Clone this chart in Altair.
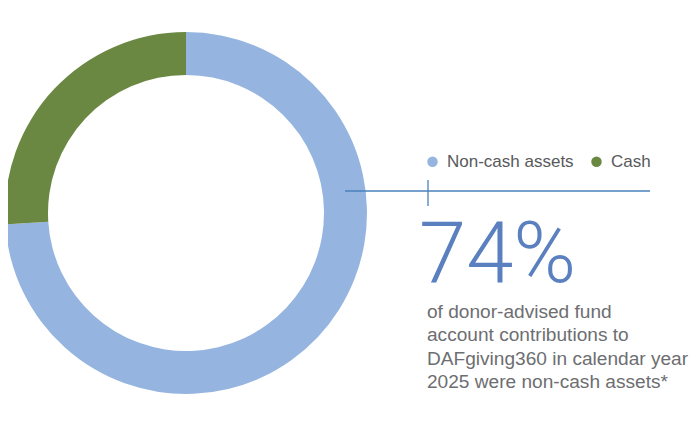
import altair as alt
import pandas as pd

categories = ["Non-cash assets", "Cash"]
shares = [74, 26]
colors = ["#95b5e0", "#6b8843"]
headline = "74%"
caption_lines = [
    "of donor-advised fund",
    "account contributions to",
    "DAFgiving360 in calendar year",
    "2025 were non-cash assets*",
]

donut_df = pd.DataFrame({"category": categories, "share": shares, "order": [0, 1]})
head_df = pd.DataFrame({"label": [headline]})
cap_df = pd.DataFrame({"caption": ["\n".join(caption_lines)]})

font = "Liberation Sans"

donut = alt.Chart(donut_df).mark_arc(outerRadius=181, innerRadius=138).encode(
    theta=alt.Theta("share:Q", stack=True),
    order=alt.Order("order:Q"),
    color=alt.Color(
        "category:N",
        scale=alt.Scale(domain=categories, range=colors),
        legend=alt.Legend(
            title=None,
            orient="none",
            direction="horizontal",
            legendX=416,
            legendY=145,
            symbolType="circle",
            symbolSize=110,
            symbolStrokeWidth=0,
            labelFont=font,
            labelFontSize=17,
            labelColor="#58595b",
            labelOffset=6,
            columnPadding=14,
            padding=0,
        ),
    ),
    x=alt.value(178),
    y=alt.value(205),
)

hline = alt.Chart(head_df).mark_rule(color="#4a82bd", strokeWidth=1.3).encode(
    x=alt.value(337), x2=alt.value(642), y=alt.value(183)
)
vtick = alt.Chart(head_df).mark_rule(color="#4a82bd", strokeWidth=1.3).encode(
    x=alt.value(420), y=alt.value(172), y2=alt.value(198)
)

big = alt.Chart(head_df).mark_text(
    font="Roboto", fontWeight=300, fontSize=85, color="#5b80bf",
    align="left", baseline="alphabetic"
).encode(text="label:N", x=alt.value(411), y=alt.value(274))

caption = alt.Chart(cap_df).mark_text(
    font=font,
    fontSize=19.1,
    color="#6d6e71",
    align="left",
    baseline="alphabetic",
    lineBreak="\n",
    lineHeight=23.3,
).encode(text="caption:N", x=alt.value(419), y=alt.value(310))

chart = (
    alt.layer(donut, hline, vtick, big, caption)
    .properties(width=684, height=410, padding=0, autosize=alt.AutoSizeParams(type="none"))
    .configure_view(stroke=None)
)

chart.save("out.html", embed_options={"renderer": "svg", "actions": False})
